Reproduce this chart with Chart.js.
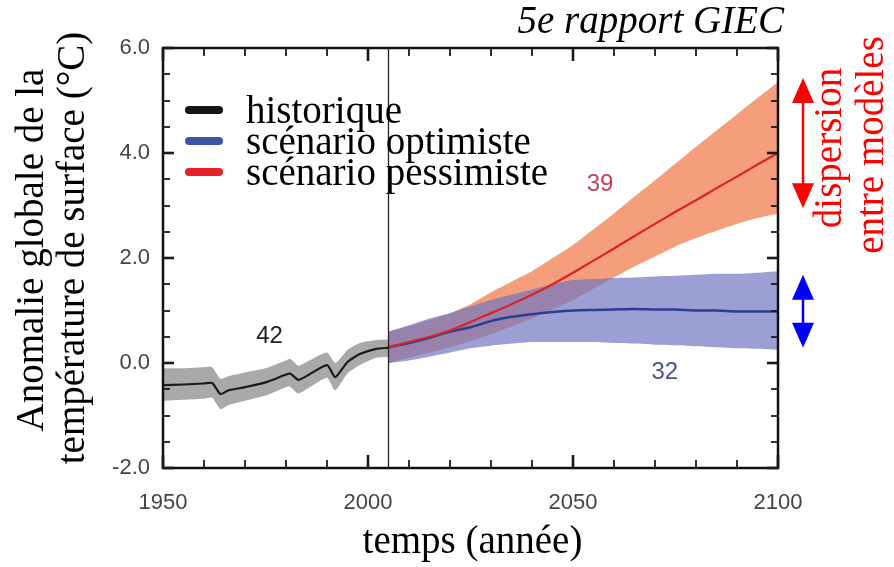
<!DOCTYPE html>
<html>
<head>
<meta charset="utf-8">
<script src="https://cdn.jsdelivr.net/npm/chart.js@4.4.0/dist/chart.umd.min.js"></script>
<style>
  html, body { margin: 0; padding: 0; background: #fff; }
  canvas { display: block; }
</style>
</head>
<body>
<canvas id="chart" width="894" height="567"></canvas>
<script>
// historical run (1950-2005), model mean and spread
const histYears = [1950, 1955, 1960, 1962, 1964, 1966, 1970, 1975, 1980, 1981, 1983, 1985, 1990, 1992, 1995, 1998, 2002, 2005];
const histMean  = [-0.42, -0.41, -0.39, -0.38, -0.59, -0.52, -0.46, -0.37, -0.22, -0.2, -0.32, -0.25, -0.04, -0.27, 0.02, 0.17, 0.27, 0.29];
const histHigh  = [-0.1, -0.1, -0.08, -0.08, -0.3, -0.25, -0.18, -0.1, 0.05, 0.08, -0.05, 0.02, 0.2, 0.0, 0.25, 0.38, 0.44, 0.45];
const histLow   = [-0.72, -0.7, -0.68, -0.66, -0.88, -0.8, -0.72, -0.62, -0.46, -0.45, -0.58, -0.5, -0.28, -0.52, -0.2, -0.04, 0.1, 0.12];

// projections (2005-2100)
const futYears  = [2005, 2010, 2015, 2020, 2025, 2030, 2035, 2040, 2045, 2050, 2055, 2060, 2065, 2070, 2075, 2080, 2085, 2090, 2095, 2100];
const redMean   = [0.3, 0.4, 0.5, 0.62, 0.78, 0.95, 1.12, 1.3, 1.5, 1.72, 1.95, 2.18, 2.42, 2.65, 2.88, 3.1, 3.33, 3.55, 3.78, 4.0];
const redHigh   = [0.6, 0.7, 0.82, 0.95, 1.12, 1.35, 1.55, 1.75, 2.0, 2.25, 2.55, 2.85, 3.17, 3.48, 3.8, 4.12, 4.43, 4.74, 5.05, 5.35];
const redLow    = [0.0, 0.1, 0.2, 0.3, 0.42, 0.55, 0.7, 0.85, 1.02, 1.2, 1.42, 1.63, 1.84, 2.03, 2.22, 2.38, 2.52, 2.65, 2.76, 2.85];
const blueMean  = [0.3, 0.38, 0.48, 0.6, 0.68, 0.8, 0.88, 0.93, 0.97, 1.0, 1.01, 1.02, 1.03, 1.02, 1.02, 1.0, 1.0, 0.98, 0.98, 0.98];
const blueHigh  = [0.6, 0.72, 0.85, 0.95, 1.08, 1.2, 1.3, 1.4, 1.5, 1.58, 1.6, 1.62, 1.63, 1.65, 1.66, 1.68, 1.7, 1.7, 1.72, 1.75];
const blueLow   = [0.0, 0.05, 0.12, 0.2, 0.28, 0.33, 0.37, 0.4, 0.4, 0.4, 0.4, 0.38, 0.37, 0.35, 0.34, 0.32, 0.3, 0.28, 0.27, 0.25];

const seriesNames = ['historique', 'scénario optimiste', 'scénario pessimiste'];
const xTicks = [1950, 2000, 2050, 2100];
const yTicks = [-2, 0, 2, 4, 6];

// number of models, placed in data coords
const modelCounts = [
    { text: '42', x: 1976, y: 0.51, color: '#222222' },
    { text: '39', x: 2056.6, y: 3.41, color: '#c4405a' },
    { text: '32', x: 2072.4, y: -0.17, color: '#45557f' }
];
const redSpread = [5.43, 2.95];
const blueSpread = [1.68, 0.29];
const histEnd = 2005;

const SERIF = '"Liberation Serif", "Times New Roman", serif';
const SANS = '"Liberation Sans Narrow", "Arial Narrow", "Liberation Sans", sans-serif';

function pts(xs, ys) {
    return xs.map((x, i) => ({ x: x, y: ys[i] }));
}

function band(values, fill, color, order) {
    return {
        data: values,
        fill: fill,
        backgroundColor: color,
        borderWidth: 0,
        pointRadius: 0,
        tension: 0.2,
        order: order
    };
}

function line(values, color, width, order) {
    return {
        data: values,
        fill: false,
        borderColor: color,
        borderWidth: width,
        pointRadius: 0,
        tension: 0.2,
        order: order
    };
}

function arrow(ctx, x, y1, y2, color) {
    const head = 25, half = 11;
    ctx.save();
    ctx.strokeStyle = color;
    ctx.fillStyle = color;
    ctx.lineWidth = 2.5;
    ctx.beginPath();
    ctx.moveTo(x, y1 + head - 2);
    ctx.lineTo(x, y2 - head + 2);
    ctx.stroke();
    ctx.beginPath();
    ctx.moveTo(x, y1);
    ctx.lineTo(x - half, y1 + head);
    ctx.lineTo(x + half, y1 + head);
    ctx.closePath();
    ctx.fill();
    ctx.beginPath();
    ctx.moveTo(x, y2);
    ctx.lineTo(x - half, y2 - head);
    ctx.lineTo(x + half, y2 - head);
    ctx.closePath();
    ctx.fill();
    ctx.restore();
}

function rotatedText(ctx, text, x, y, font, color) {
    ctx.save();
    ctx.translate(x, y);
    ctx.rotate(-Math.PI / 2);
    ctx.font = font;
    ctx.fillStyle = color;
    ctx.textAlign = 'center';
    ctx.textBaseline = 'alphabetic';
    ctx.fillText(text, 0, 0);
    ctx.restore();
}

function tickMark(ctx, x1, y1, x2, y2, width) {
    ctx.lineWidth = width;
    ctx.beginPath();
    ctx.moveTo(x1, y1);
    ctx.lineTo(x2, y2);
    ctx.stroke();
}

const overlay = {
    id: 'overlay',
    afterDatasetsDraw(chart) {
        const { ctx, chartArea: area, scales: { x } } = chart;
        // end of the historical period
        const xe = x.getPixelForValue(histEnd);
        ctx.save();
        ctx.strokeStyle = '#222';
        ctx.lineWidth = 1.3;
        ctx.beginPath();
        ctx.moveTo(xe, area.top);
        ctx.lineTo(xe, area.bottom);
        ctx.stroke();
        ctx.restore();
    },
    afterDraw(chart) {
        const { ctx, chartArea: area, scales: { x, y } } = chart;
        ctx.save();

        // frame
        ctx.strokeStyle = '#111';
        ctx.lineWidth = 2.5;
        ctx.strokeRect(area.left, area.top, area.right - area.left, area.bottom - area.top);

        // inward ticks on all four sides
        ctx.lineCap = 'butt';
        ctx.strokeStyle = '#1a1a1a';
        for (let v = 1950; v <= 2100; v += 10) {
            const major = xTicks.includes(v);
            const len = major ? 13 : 8;
            const w = major ? 2.6 : 1.8;
            const px = Math.round(x.getPixelForValue(v));
            tickMark(ctx, px, area.bottom, px, area.bottom - len, w);
            tickMark(ctx, px, area.top, px, area.top + len, w);
        }
        for (let v = -2; v <= 6; v += 0.5) {
            const major = yTicks.includes(v);
            const len = major ? 11 : 7;
            const w = major ? 2.6 : 1.8;
            const py = Math.round(y.getPixelForValue(v));
            tickMark(ctx, area.left, py, area.left + len, py, w);
            tickMark(ctx, area.right, py, area.right - len, py, w);
        }

        // model counts
        ctx.font = '24px ' + SANS;
        ctx.textAlign = 'center';
        ctx.textBaseline = 'middle';
        modelCounts.forEach(m => {
            ctx.fillStyle = m.color;
            ctx.fillText(m.text, x.getPixelForValue(m.x), y.getPixelForValue(m.y));
        });

        // legend
        const colors = ['#161616', '#3b56a2', '#e8202a'];
        const lx = area.left + 26, ly = area.top + 62;
        seriesNames.forEach((name, i) => {
            const yy = ly + i * 31;
            ctx.strokeStyle = colors[i];
            ctx.lineWidth = 8;
            ctx.lineCap = 'round';
            ctx.beginPath();
            ctx.moveTo(lx, yy);
            ctx.lineTo(lx + 30, yy);
            ctx.stroke();
            ctx.fillStyle = '#000';
            ctx.font = '39px ' + SERIF;
            ctx.textAlign = 'left';
            ctx.textBaseline = 'alphabetic';
            ctx.fillText(name, area.left + 83, yy + 13);
        });

        // header
        ctx.font = 'italic 39px ' + SERIF;
        ctx.fillStyle = '#000';
        ctx.textAlign = 'right';
        ctx.fillText('5e rapport GIEC', area.right + 6, 33);

        // axis titles
        ctx.textAlign = 'center';
        ctx.font = '39px ' + SERIF;
        ctx.fillText('temps (année)', (area.left + area.right) / 2 + 2, 553);
        rotatedText(ctx, 'Anomalie globale de la', 43, 250, '39px ' + SERIF, '#000');
        rotatedText(ctx, 'température de surface (°C)', 84, 248, '39px ' + SERIF, '#000');

        // model spread arrows and note
        const ax = area.right + 25;
        arrow(ctx, ax, y.getPixelForValue(redSpread[0]), y.getPixelForValue(redSpread[1]), '#ff0000');
        arrow(ctx, ax, y.getPixelForValue(blueSpread[0]), y.getPixelForValue(blueSpread[1]), '#0000ff');
        rotatedText(ctx, 'dispersion', 841, 148, '39px ' + SERIF, '#ff0000');
        rotatedText(ctx, 'entre modèles', 883, 145, '39px ' + SERIF, '#ff0000');

        ctx.restore();
    }
};

const chart = new Chart(document.getElementById('chart'), {
    type: 'line',
    data: {
        datasets: [
            line(pts(futYears, redMean), '#d82428', 2.2, 1),
            line(pts(futYears, blueMean), '#2c3f8f', 2.5, 2),
            line(pts(histYears, histMean), '#1a1a1a', 2.2, 3),
            band(pts(histYears, histHigh), '+1', 'rgba(140,140,140,0.75)', 4),
            band(pts(histYears, histLow), false, 'rgba(0,0,0,0)', 4),
            band(pts(futYears, blueHigh), '+1', 'rgba(112,118,192,0.7)', 5),
            band(pts(futYears, blueLow), false, 'rgba(0,0,0,0)', 5),
            band(pts(futYears, redHigh), '+1', 'rgb(244,158,124)', 6),
            band(pts(futYears, redLow), false, 'rgba(0,0,0,0)', 6)
        ]
    },
    options: {
        responsive: false,
        animation: false,
        layout: { padding: { left: 0, right: 116, top: 48, bottom: 0 } },
        scales: {
            x: {
                type: 'linear',
                min: 1950,
                max: 2100,
                afterBuildTicks: scale => { scale.ticks = xTicks.map(v => ({ value: v })); },
                afterFit: scale => { scale.height = 99; },
                grid: { display: false, drawTicks: false },
                border: { display: false },
                ticks: {
                    padding: 22,
                    color: '#444',
                    font: { family: SANS, size: 22 },
                    callback: v => String(v)
                }
            },
            y: {
                type: 'linear',
                min: -2,
                max: 6,
                afterBuildTicks: scale => { scale.ticks = yTicks.map(v => ({ value: v })); },
                afterFit: scale => { scale.width = 163; },
                grid: { display: false, drawTicks: false },
                border: { display: false },
                ticks: {
                    padding: 13,
                    color: '#444',
                    font: { family: SANS, size: 22 },
                    callback: v => v.toFixed(1)
                }
            }
        },
        plugins: {
            legend: { display: false },
            title: { display: false },
            tooltip: { enabled: false }
        }
    },
    plugins: [overlay]
});
</script>
</body>
</html>
